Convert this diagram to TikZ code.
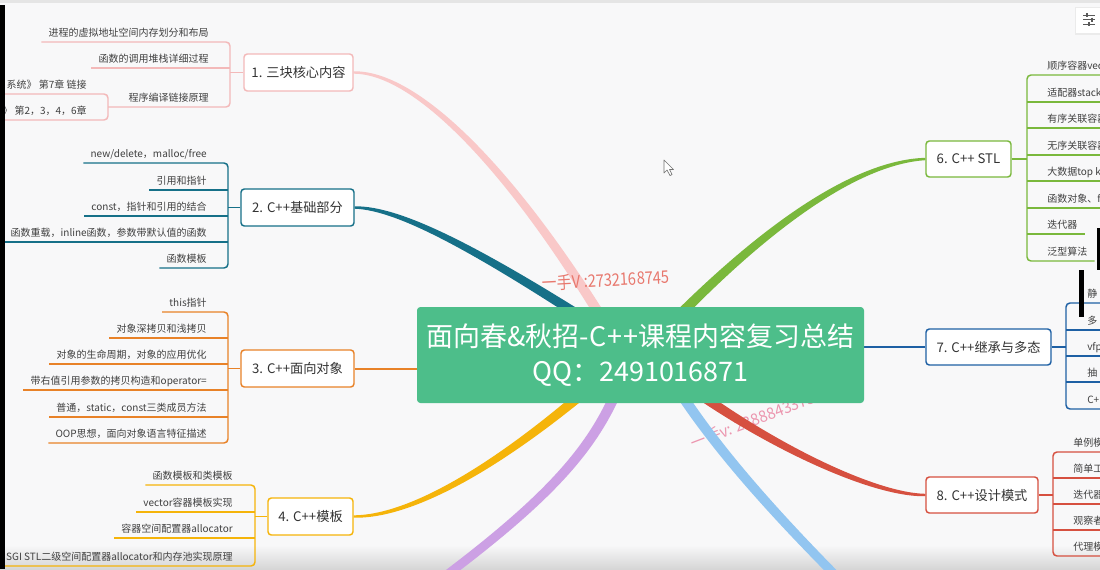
\documentclass[tikz,border=0pt]{standalone}
\usepackage{fontspec}
\setmainfont{Noto Sans CJK SC}
\usetikzlibrary{calc}
\definecolor{bgc}{RGB}{248,248,249}
\definecolor{txt}{RGB}{64,64,64}
\definecolor{tx2}{RGB}{51,51,51}
\definecolor{rootc}{RGB}{77,190,138}
\definecolor{c1}{RGB}{243,185,185}
\definecolor{c1b}{RGB}{249,200,200}
\definecolor{c2}{RGB}{22,112,136}
\definecolor{c3}{RGB}{232,130,40}
\definecolor{c4}{RGB}{245,180,10}
\definecolor{c5}{RGB}{204,160,228}
\definecolor{c6}{RGB}{122,184,60}
\definecolor{c7}{RGB}{30,96,164}
\definecolor{c8}{RGB}{214,80,64}
\definecolor{c9}{RGB}{146,197,240}
\definecolor{wm1}{RGB}{232,120,110}
\definecolor{wm2}{RGB}{236,150,175}
\definecolor{shadowc}{RGB}{214,214,214}
\pgfdeclarelayer{bg}
\pgfdeclarelayer{br}
\pgfsetlayers{bg,br,main}
% tapered branch: colour, thin end, control 1, control 2, thick end, thin half width, thick half width (pt)
\newcommand{\taperbranch}[7]{%
  \coordinate (q0) at (#2); \coordinate (q1) at (#3);
  \coordinate (q2) at (#4); \coordinate (q3) at (#5);
  \pgfmathsetmacro\hwa{#6+(#7-#6)/3}%
  \pgfmathsetmacro\hwb{#6+2*(#7-#6)/3}%
  \fill[#1] ($(q0)!#6pt!90:(q1)$) .. controls ($(q1)!\hwa pt!90:(q2)$) and ($(q2)!\hwb pt!-90:(q1)$) .. ($(q3)!#7pt!-90:(q2)$)
    -- ($(q3)!#7pt!90:(q2)$) .. controls ($(q2)!\hwb pt!90:(q1)$) and ($(q1)!\hwa pt!-90:(q2)$) .. ($(q0)!#6pt!-90:(q1)$) -- cycle;
}
\begin{document}
\begin{tikzpicture}[x=0.75pt,y=-0.75pt,
  itm/.style={font=\fontsize{7.5pt}{9pt}\selectfont,text=txt,inner xsep=5.25pt,inner ysep=2.25pt,text height=6.2pt,text depth=1.5pt},
  itl/.style={itm,anchor=south east},
  itr/.style={itm,anchor=south west},
  topic/.style={draw=#1,fill=white,line width=1.1pt,rounded corners=2.5pt,font=\fontsize{9.9pt}{12pt}\selectfont,text=tx2,inner sep=0pt,minimum height=27.75pt},
  lnk/.style={draw=#1,line width=1.1pt,rounded corners=3pt},
  wmark/.style={font=\fontsize{12pt}{14pt}\selectfont,inner sep=0pt}]
\useasboundingbox (0,0) rectangle (1100,569);
\begin{pgfonlayer}{bg}
  \fill[bgc] (0,0) rectangle (1100,569);
  \fill[black!10] (0,0) rectangle (1100,3);
  \shade[top color=bgc,bottom color=shadowc] (0,545) rectangle (1100,569);
\end{pgfonlayer}
\clip (0,0) rectangle (1100,569);

% ---------- named anchors ----------
\coordinate (L) at (-20,0);
\coordinate (R) at (1120,0);
\coordinate (k1) at (230,0);
\coordinate (k13) at (108,0);
\coordinate (k2) at (228,0);
\coordinate (k3) at (228,0);
\coordinate (k4) at (255,0);
\coordinate (k6) at (1027,0);
\coordinate (k7) at (1066,0);
\coordinate (k8) at (1053,0);
\coordinate (p5) at (440,580);
\coordinate (p9) at (850,590);

% ---------- root ----------
\node[fill=rootc,rounded corners=2.5pt,minimum width=335.25pt,minimum height=72pt,inner sep=0pt,
      text=white,align=center,font=\fontsize{20.2pt}{26.25pt}\selectfont] (root) at (640.5,355)
      {面向春\&秋招-C{\kern1pt}+{\kern1pt}+课程内容复习总结\\QQ：2491016871};

% ---------- topics ----------
\node[topic=c1,minimum width=81.75pt] (n1) at (298.5,72.5) {1. 三块核心内容};
\node[topic=c2,minimum width=84.75pt] (n2) at (297.5,207.5) {2. C++基础部分};
\node[topic=c3,minimum width=84.75pt] (n3) at (297.5,368.5) {3. C++面向对象};
\node[topic=c4,minimum width=63.75pt] (n4) at (310.5,516.5) {4. C++模板};
\node[topic=c6,minimum width=63.75pt,minimum height=27pt] (n6) at (968.5,159) {6. C++ STL};
\node[topic=c7,minimum width=93.75pt,minimum height=27pt] (n7) at (988.5,347) {7. C++继承与多态};
\node[topic=c8,minimum width=84pt,minimum height=27pt] (n8) at (982,495) {8. C++设计模式};

% ---------- branch 1 items ----------
\node[itl] (i11) at (216,42) {进程的虚拟地址空间内存划分和布局};
\node[itl] (i12) at (216,68) {函数的调用堆栈详细过程};
\node[itl] (i13) at (216,107) {程序编译链接原理};
\node[itl] (i131) at (94,94) {系统》 第7章 链接};
\node[itl] (i132) at (94,120) {》 第2，3，4，6章};
\draw[lnk=c1] (i11.south west) -- (i11.south -| k1) -- (i13.south -| k1) -- (i13.south -| k13);
\draw[lnk=c1] (i12.south west) -- (i12.south -| k1);
\draw[lnk=c1] (n1.west) -- (n1.west -| k1);
\draw[lnk=c1] (i131.south -| L) -- (i131.south -| k13) -- (i132.south -| k13) -- (i132.south -| L);

% ---------- branch 2 items ----------
\node[itl] (i21) at (214,163) {new/delete，malloc/free};
\node[itl] (i22) at (214,190) {引用和指针};
\node[itl] (i23) at (214,216) {const，指针和引用的结合};
\node[itl] (i24) at (214,242) {函数重载，inline函数，参数带默认值的函数};
\node[itl] (i25) at (214,268) {函数模板};
\draw[lnk=c2] (i21.south west) -- (i21.south -| k2) -- (i25.south -| k2) -- (i25.south west);
\foreach \i in {22,23,24} \draw[lnk=c2] (i\i.south west) -- (i\i.south -| k2);
\draw[lnk=c2] (n2.west) -- (n2.west -| k2);

% ---------- branch 3 items ----------
\node[itl] (i31) at (214,312) {this指针};
\node[itl] (i32) at (214,338) {对象深拷贝和浅拷贝};
\node[itl] (i33) at (214,364) {对象的生命周期，对象的应用优化};
\node[itl] (i34) at (214,390) {带右值引用参数的拷贝构造和operator=};
\node[itl] (i35) at (214,417) {普通，static，const三类成员方法};
\node[itl] (i36) at (214,443) {OOP思想，面向对象语言特征描述};
\draw[lnk=c3] (i31.south west) -- (i31.south -| k3) -- (i36.south -| k3) -- (i36.south west);
\foreach \i in {32,33,34,35} \draw[lnk=c3] (i\i.south west) -- (i\i.south -| k3);
\draw[lnk=c3] (n3.west) -- (n3.west -| k3);

% ---------- branch 4 items ----------
\node[itl] (i41) at (240,485) {函数模板和类模板};
\node[itl] (i42) at (240,512) {vector容器模板实现};
\node[itl] (i43) at (240,538) {容器空间配置器allocator};
\node[itl] (i44) at (240,566) {SGI STL二级空间配置器allocator和内存池实现原理};
\draw[lnk=c4] (i41.south west) -- (i41.south -| k4) -- (i44.south -| k4) -- (i44.south west);
\foreach \i in {42,43} \draw[lnk=c4] (i\i.south west) -- (i\i.south -| k4);
\draw[lnk=c4] (n4.west) -- (n4.west -| k4);

% ---------- branch 6 items ----------
\node[itr] (i61) at (1040,75) {顺序容器vec};
\node[itr] (i62) at (1040,102) {适配器stack};
\node[itr] (i63) at (1040,128) {有序关联容器};
\node[itr] (i64) at (1040,155) {无序关联容器};
\node[itr] (i65) at (1040,181) {大数据top k};
\node[itr] (i66) at (1040,208) {函数对象、f};
\node[itr] (i67) at (1040,234) {迭代器};
\node[itr] (i68) at (1040,261) {泛型算法};
\draw[lnk=c6] (i61.south -| R) -- (i61.south -| k6) -- (i68.south -| k6) -- (i68.south east);
\foreach \i in {62,63,64,65,66} \draw[lnk=c6] (i\i.south -| k6) -- (i\i.south -| R);
\draw[lnk=c6] (i67.south -| k6) -- (i67.south east);
\draw[lnk=c6] (n6.east) -- (n6.east -| k6);

% ---------- branch 7 items ----------
\node[itr] (i71) at (1080,303) {静};
\node[itr] (i72) at (1080,330) {多};
\node[itr] (i73) at (1080,356) {vfp};
\node[itr] (i74) at (1080,382) {抽};
\node[itr] (i75) at (1080,409) {C+};
\draw[lnk=c7] (i71.south -| R) -- (i71.south -| k7) -- (i75.south -| k7) -- (i75.south -| R);
\foreach \i in {72,73,74} \draw[lnk=c7] (i\i.south -| k7) -- (i\i.south -| R);
\draw[lnk=c7] (n7.east) -- (n7.east -| k7);

% ---------- branch 8 items ----------
\node[itr] (i81) at (1066,452) {单例模};
\node[itr] (i82) at (1066,478) {简单工};
\node[itr] (i83) at (1066,504) {迭代器};
\node[itr] (i84) at (1066,530) {观察者};
\node[itr] (i85) at (1066,556) {代理模};
\draw[lnk=c8] (i81.south -| R) -- (i81.south -| k8) -- (i85.south -| k8) -- (i85.south -| R);
\foreach \i in {82,83,84} \draw[lnk=c8] (i\i.south -| k8) -- (i\i.south -| R);
\draw[lnk=c8] (n8.east) -- (n8.east -| k8);

% ---------- main branches ----------
\begin{pgfonlayer}{br}
  \clip (0,0) rectangle (1100,569);
  \node[wmark,text=wm2,rotate=21,xscale=0.95] (wm2) at (753,420) {一手v: 2388843375};
  \taperbranch{c1b}{n1.east}{420,72}{520,180}{615,340}{0.9}{4}
  \taperbranch{c2}{n2.east}{400,208}{480,250}{625,345}{0.9}{4}
  \taperbranch{c4}{n4.east}{420,517}{520,450}{610,370}{0.9}{4}
  \taperbranch{c5}{p5}{560,490}{600,440}{625,370}{3.3}{4}
  \taperbranch{c9}{p9}{760,500}{700,430}{660,360}{3.3}{4}
  \taperbranch{c8}{n8.west}{870,495}{760,440}{680,380}{0.9}{4}
  \taperbranch{c6}{n6.west}{860,162}{770,220}{660,335}{0.9}{4}
  \draw[c3,line width=1.5pt] (n3.east) -- (n3.east -| root.west);
  \draw[c7,line width=1.5pt] (n7.west -| root.east) -- (n7.west);
  \node[wmark,text=wm1,rotate=3,xscale=0.85,font=\fontsize{13pt}{15pt}\selectfont] (wm1) at (606,280) {一手V :2732168745};
\end{pgfonlayer}

% ---------- screen details ----------
\fill[black] (0,5) rectangle (5,569);
\fill[black] (1097,228) rectangle (1100,270);
\fill[black] (1079,270) rectangle (1084,317);
\fill[black!8] (1075,7) rectangle (1101,35);
\fill[white] (1076,8) rectangle (1101,33);
\draw[black!65,line width=0.75pt] (1083,15) -- (1095,15) (1083,19.5) -- (1095,19.5) (1083,24) -- (1095,24);
\draw[black!65,line width=0.9pt] (1087,13) -- (1087,17) (1092,17.5) -- (1092,21.5) (1089,22) -- (1089,26);
\draw[black!55,fill=white,line width=0.5pt,line join=round] (664,160) -- (664,173) -- (667,170) -- (670,175.5) -- (672,174.5) -- (669.5,169.5) -- (673.5,169.5) -- cycle;
\end{tikzpicture}
\end{document}
